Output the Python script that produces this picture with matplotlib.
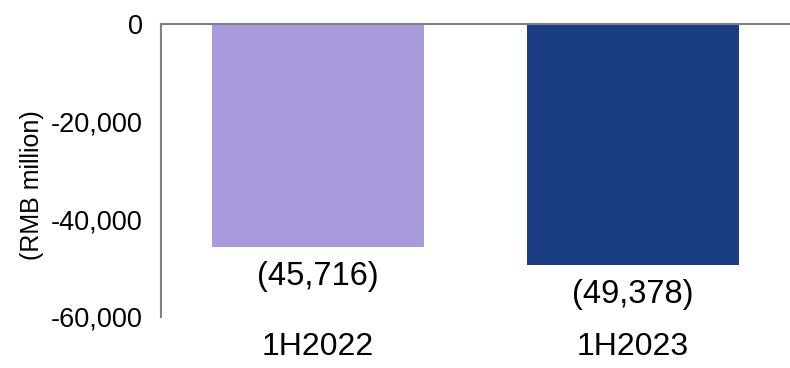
import matplotlib
matplotlib.use('Agg')
import matplotlib.pyplot as plt

plt.rcParams['font.family'] = ['Liberation Sans', 'DejaVu Sans']

periods = ['1H2022', '1H2023']
values = [-45716, -49378]
labels = ['(45,716)', '(49,378)']
colors = ['#A99BDB', '#1A3D84']
yticks = [0, -20000, -40000, -60000]

fig = plt.figure(figsize=(7.9, 3.68), dpi=100)
ax = fig.add_axes([0.2035, 0.1386, 0.7965, 0.7962])

x = range(len(periods))
bars = ax.bar(x, values, width=0.673, color=colors)

# value labels under each bar
for b, lab in zip(bars, labels):
    ax.annotate(lab, (b.get_x() + b.get_width() / 2, b.get_height()),
                xytext=(0, -10), textcoords='offset points',
                ha='center', va='top', fontsize=23.5)

ax.set_xlim(-0.5, 1.5)
ax.set_ylim(-60000, 0)
ax.set_xticks(x)
ax.set_xticklabels(periods, fontsize=23)
ax.set_yticks(yticks)
ax.set_yticklabels(['0' if v == 0 else f'{v:,}' for v in yticks], fontsize=19.5)
ax.tick_params(axis='y', length=0, pad=13)
ax.tick_params(axis='x', length=0, pad=11)

ax.set_ylabel('(RMB million)', fontsize=18)
ax.yaxis.set_label_coords(-0.185, 0.45)

for s in ['right', 'bottom']:
    ax.spines[s].set_visible(False)
for s in ['top', 'left']:
    ax.spines[s].set_color('#808080')
    ax.spines[s].set_linewidth(1.5)

fig.savefig('out.png', dpi=100)
